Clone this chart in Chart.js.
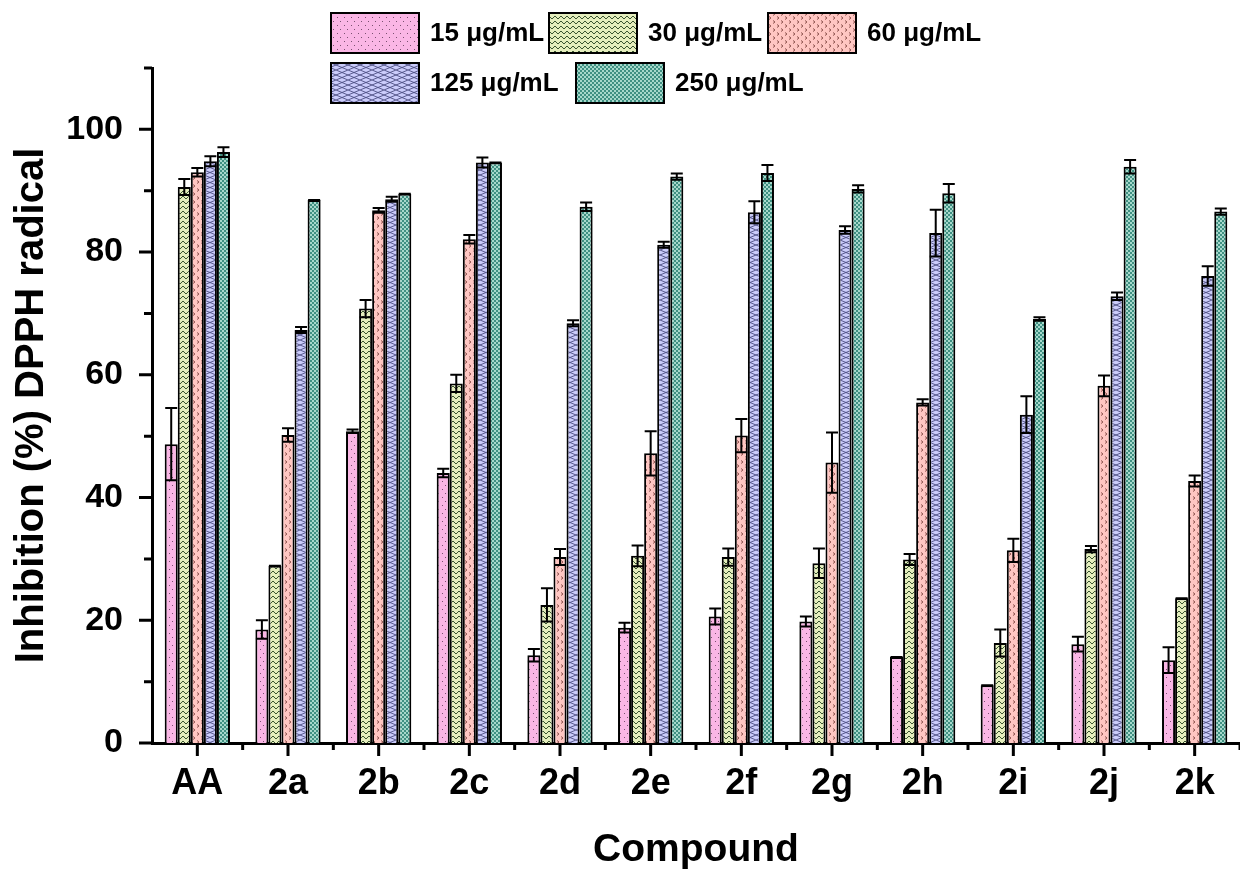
<!DOCTYPE html>
<html>
<head>
<meta charset="utf-8">
<script src="https://cdn.jsdelivr.net/npm/chart.js@4.4.1/dist/chart.umd.min.js"></script>
<style>
  html, body { margin: 0; padding: 0; background: #fff; overflow: hidden; }
  #wrap { width: 1240px; height: 870px; position: relative; }
</style>
</head>
<body>
<div id="wrap"><canvas id="chart"></canvas></div>
<script>
// compounds on the x axis
const compounds = ['AA', '2a', '2b', '2c', '2d', '2e', '2f', '2g', '2h', '2i', '2j', '2k'];

// mean inhibition (%) per concentration
const c15  = [48.7, 18.5, 50.8, 44.0, 14.3, 18.8, 20.6, 19.8, 14.0,  9.4, 16.1, 13.5];
const c30  = [90.6, 28.9, 70.8, 58.6, 22.5, 30.5, 30.3, 29.3, 29.9, 16.3, 31.6, 23.6];
const c60  = [93.0, 50.2, 86.8, 82.1, 30.3, 47.2, 50.1, 45.7, 55.5, 31.4, 58.2, 42.7];
const c125 = [94.8, 67.3, 88.6, 94.6, 68.4, 81.2, 86.5, 83.6, 83.1, 53.5, 72.8, 76.1];
const c250 = [96.3, 88.5, 89.5, 94.6, 87.4, 92.3, 92.9, 90.3, 89.6, 69.1, 93.9, 86.6];

// standard deviations
const e15  = [5.9, 1.5, 0.3, 0.7, 1.0, 0.8, 1.3, 0.8, 0.0, 0.0, 1.2, 2.1];
const e30  = [1.3, 0.0, 1.4, 1.4, 2.7, 1.7, 1.4, 2.4, 0.9, 2.2, 0.5, 0.0];
const e60  = [0.7, 1.1, 0.4, 0.7, 1.3, 3.6, 2.7, 4.9, 0.5, 1.9, 1.7, 0.9];
const e125 = [0.8, 0.5, 0.4, 0.8, 0.5, 0.5, 1.8, 0.6, 3.8, 3.0, 0.6, 1.6];
const e250 = [0.8, 0.0, 0.0, 0.0, 0.7, 0.5, 1.3, 0.6, 1.5, 0.3, 1.1, 0.5];

const seriesLabels = ['15 μg/mL', '30 μg/mL', '60 μg/mL', '125 μg/mL', '250 μg/mL'];
const yTicks = [0, 10, 20, 30, 40, 50, 60, 70, 80, 90, 100, 110];

const FONT = '"Liberation Sans", Arial, sans-serif';

function makePattern(w, h, draw) {
  const tile = document.createElement('canvas');
  tile.width = w; tile.height = h;
  draw(tile.getContext('2d'), w, h);
  return document.createElement('canvas').getContext('2d').createPattern(tile, 'repeat');
}

// fill textures for the five concentrations
const fills = [
  makePattern(7, 8, (g) => {
    g.fillStyle = '#fab6e5'; g.fillRect(0, 0, 7, 8);
    g.fillStyle = '#7a5070';
    g.fillRect(1, 1, 1, 1); g.fillRect(4, 5, 1, 1);
  }),
  makePattern(6, 5, (g) => {
    g.fillStyle = '#e5eebd'; g.fillRect(0, 0, 6, 5);
    g.strokeStyle = '#3a5530'; g.lineWidth = 1;
    g.beginPath(); g.moveTo(0, 4); g.lineTo(3, 1); g.lineTo(6, 4); g.stroke();
  }),
  makePattern(8, 8, (g) => {
    g.fillStyle = '#ffc6c2'; g.fillRect(0, 0, 8, 8);
    g.strokeStyle = '#8f5550'; g.lineWidth = 1;
    g.beginPath();
    g.moveTo(1, 0.5); g.lineTo(3, 2); g.lineTo(1, 3.5);
    g.moveTo(5, 4.5); g.lineTo(7, 6); g.lineTo(5, 7.5);
    g.stroke();
  }),
  makePattern(12, 10, (g) => {
    g.fillStyle = '#cbccfb'; g.fillRect(0, 0, 12, 10);
    g.strokeStyle = '#4c4d80'; g.lineWidth = 0.9;
    g.beginPath();
    g.moveTo(0, 0); g.lineTo(12, 5); g.lineTo(0, 10);
    g.moveTo(12, 0); g.lineTo(0, 5); g.lineTo(12, 10);
    g.stroke();
  }),
  makePattern(4, 4, (g) => {
    g.fillStyle = '#3f9082'; g.fillRect(0, 0, 4, 4);
    g.fillStyle = '#a6d8cb';
    g.fillRect(0, 0, 2, 2); g.fillRect(2, 2, 2, 2);
  })
];

const means = [c15, c30, c60, c125, c250];
const errs = [e15, e30, e60, e125, e250];

const datasets = means.map((d, i) => ({
  label: seriesLabels[i],
  data: d,
  errors: errs[i],
  backgroundColor: fills[i],
  borderColor: '#000',
  borderWidth: 2,
  borderSkipped: 'start',
  barPercentage: 1.0,
  categoryPercentage: 0.72
}));

// error bars drawn from the dataset values through the y scale
const errorBars = {
  id: 'errorBars',
  afterDatasetsDraw(chart) {
    const ctx = chart.ctx;
    const y = chart.scales.y;
    ctx.save();
    ctx.strokeStyle = '#000';
    ctx.lineWidth = 2;
    chart.data.datasets.forEach((ds, i) => {
      const meta = chart.getDatasetMeta(i);
      meta.data.forEach((bar, j) => {
        const v = ds.data[j], e = ds.errors[j];
        const top = y.getPixelForValue(v + e);
        const bot = y.getPixelForValue(v - e);
        const half = 6;
        ctx.beginPath();
        ctx.moveTo(bar.x, top); ctx.lineTo(bar.x, bot);
        ctx.moveTo(bar.x - half, top); ctx.lineTo(bar.x + half, top);
        ctx.moveTo(bar.x - half, bot); ctx.lineTo(bar.x + half, bot);
        ctx.stroke();
      });
    });
    ctx.restore();
  }
};

// outward major/minor tick marks on both axes
const tickMarks = {
  id: 'tickMarks',
  afterDraw(chart) {
    const ctx = chart.ctx;
    const { left, bottom } = chart.chartArea;
    const x = chart.scales.x, y = chart.scales.y;
    const step = x.getPixelForValue(1) - x.getPixelForValue(0);
    ctx.save();
    ctx.strokeStyle = '#000';
    ctx.lineWidth = 3;
    ctx.beginPath();
    yTicks.forEach((v) => {
      const py = y.getPixelForValue(v);
      const len = v % 20 === 0 ? 13 : 8;
      ctx.moveTo(left, py); ctx.lineTo(left - len, py);
    });
    compounds.forEach((c, i) => {
      const px = x.getPixelForValue(i);
      ctx.moveTo(px, bottom); ctx.lineTo(px, bottom + 13);
      ctx.moveTo(px + step / 2, bottom); ctx.lineTo(px + step / 2, bottom + 7);
    });
    ctx.stroke();
    ctx.restore();
  }
};

// two-row legend with textured swatches
const patternLegend = {
  id: 'patternLegend',
  afterDraw(chart) {
    const ctx = chart.ctx;
    const rows = [
      [{ i: 0, x: 331 }, { i: 1, x: 549 }, { i: 2, x: 768 }],
      [{ i: 3, x: 331 }, { i: 4, x: 576 }]
    ];
    const rowY = [13, 63];
    ctx.save();
    ctx.font = 'bold 26px ' + FONT;
    ctx.textBaseline = 'middle';
    rows.forEach((row, r) => {
      row.forEach((item) => {
        const ds = chart.data.datasets[item.i];
        ctx.fillStyle = ds.backgroundColor;
        ctx.fillRect(item.x, rowY[r], 88, 40);
        ctx.strokeStyle = '#000';
        ctx.lineWidth = 2;
        ctx.strokeRect(item.x, rowY[r], 88, 40);
        ctx.fillStyle = '#000';
        ctx.fillText(ds.label, item.x + 99, rowY[r] + 21);
      });
    });
    ctx.restore();
  }
};

new Chart(document.getElementById('chart'), {
  type: 'bar',
  data: { labels: compounds, datasets },
  plugins: [errorBars, tickMarks, patternLegend],
  options: {
    responsive: true,
    maintainAspectRatio: false,
    animation: false,
    layout: { padding: { top: 68, right: 0, left: 0, bottom: 0 } },
    plugins: {
      legend: { display: false },
      tooltip: { enabled: false }
    },
    scales: {
      x: {
        grid: { display: false, drawTicks: false },
        border: { display: true, color: '#000', width: 3 },
        ticks: {
          color: '#000',
          padding: 19,
          font: { family: FONT, size: 36, weight: 'bold' }
        },
        title: {
          display: true,
          text: 'Compound',
          color: '#000',
          padding: { top: 0, bottom: -4 },
          font: { family: FONT, size: 39, weight: 'bold' }
        },
        afterFit(scale) { scale.height = 127; }
      },
      y: {
        min: 0,
        max: 110,
        grid: { display: false, drawTicks: false },
        border: { display: true, color: '#000', width: 3 },
        ticks: {
          stepSize: 10,
          color: '#000',
          padding: 29,
          font: { family: FONT, size: 34, weight: 'bold' },
          callback: (v) => (v % 20 === 0 && v <= 100 ? v : '')
        },
        title: {
          display: true,
          text: 'Inhibition (%) DPPH radical',
          color: '#000',
          padding: { top: 8, bottom: 0 },
          font: { family: FONT, size: 40, weight: 'bold' }
        },
        afterFit(scale) { scale.width = 152; }
      }
    }
  }
});
</script>
</body>
</html>
